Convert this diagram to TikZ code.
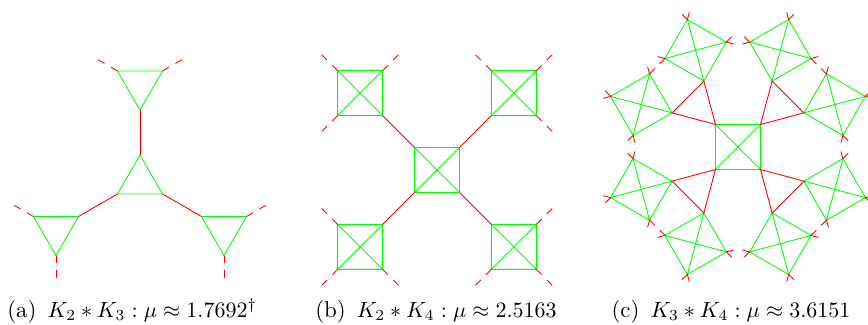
\documentclass[tikz,border=0pt]{standalone}
\usepackage{amsmath}
\usepackage{xcolor}
\usepackage{tikz}
\usetikzlibrary{calc}
\definecolor{kgreen}{RGB}{0,255,0}
\definecolor{kred}{RGB}{255,0,0}

\begin{document}
\begin{tikzpicture}[x=0.4545pt, y=0.4545pt, kedge/.style={kgreen, line join=round}, link/.style={kred}, stub/.style={kred, dash pattern=on 3.4pt off 3.4pt}, tick/.style={kred}, subcap/.style={anchor=base, inner sep=0pt, font=\fontsize{10.4}{12.5}\selectfont}]
\useasboundingbox (0,0) rectangle (868,324);

% (a) K2 * K3
\coordinate (oa) at (140,143);
\foreach \i in {0,1,2}
  \coordinate (a\i) at ($(oa)+({90+120*\i}:26)$);
\draw[kedge] (a0) -- (a1) -- (a2) -- cycle;
\foreach \i [evaluate=\i as \t using 90+120*\i] in {0,1,2} {
  \coordinate (ac\i) at ($(oa)+(\t:97)$);
  % a\i-0 faces the centre triangle
  \foreach \k in {0,1,2}
    \coordinate (a\i-\k) at ($(ac\i)+({\t+180+120*\k}:26)$);
  \draw[kedge] (a\i-0) -- (a\i-1) -- (a\i-2) -- cycle;
  \draw[link] (a\i) -- (a\i-0);
  \foreach \k in {1,2} {
    \coordinate (as\i-\k) at ($(ac\i)+({\t+180+120*\k}:48.5)$);
    \draw[stub] (a\i-\k) -- (as\i-\k);
  }
}

% (b) K2 * K4
\coordinate (ob) at (437,154);
\foreach \i in {0,...,3}
  \coordinate (b\i) at ($(ob)+({45+90*\i}:31.82)$);
\draw[kedge] (b0) -- (b1) -- (b2) -- (b3) -- cycle (b0) -- (b2) (b1) -- (b3);
\foreach \i [evaluate=\i as \t using 45+90*\i] in {0,...,3} {
  \coordinate (bc\i) at ($(ob)+(\t:108.64)$);
  \foreach \k in {0,...,3}
    \coordinate (b\i-\k) at ($(bc\i)+({\t+90*\k}:31.82)$);
  \draw[kedge] (b\i-0) -- (b\i-1) -- (b\i-2) -- (b\i-3) -- cycle (b\i-0) -- (b\i-2) (b\i-1) -- (b\i-3);
  \draw[link] (b\i) -- (b\i-2);
  \foreach \k in {0,1,3} {
    \coordinate (bs\i-\k) at ($(bc\i)+({\t+90*\k}:54.32)$);
    \draw[stub] (b\i-\k) -- (bs\i-\k);
  }
}

% (c) K3 * K4
\coordinate (oc) at (738,177);
\foreach \i in {0,...,3}
  \coordinate (c\i) at ($(oc)+({45+90*\i}:31.82)$);
\draw[kedge] (c0) -- (c1) -- (c2) -- (c3) -- cycle (c0) -- (c2) (c1) -- (c3);
\foreach \i [evaluate=\i as \t using 45+90*\i] in {0,...,3} {
  \foreach \j/\d in {p/30,m/-30} {
    \coordinate (cc\i\j) at ($(c\i)+({\t+\d}:76.82)$);
    \foreach \k in {0,...,3}
      \coordinate (c\i\j-\k) at ($(cc\i\j)+({\t+\d+90*\k}:31.82)$);
    \draw[kedge] (c\i\j-0) -- (c\i\j-1) -- (c\i\j-2) -- (c\i\j-3) -- cycle (c\i\j-0) -- (c\i\j-2) (c\i\j-1) -- (c\i\j-3);
    \foreach \k in {0,1,3} {
      \coordinate (ct\i\j-\k-l) at ($(c\i\j-\k)+({\t+\d+90*\k+30}:7.5)$);
      \coordinate (ct\i\j-\k-r) at ($(c\i\j-\k)+({\t+\d+90*\k-30}:7.5)$);
      \draw[tick] (ct\i\j-\k-l) -- (c\i\j-\k) -- (ct\i\j-\k-r);
    }
  }
  \draw[link] (c\i) -- (c\i p-2) -- (c\i m-2) -- cycle;
}

% captions
\node[subcap] (capa) at (132,7) {(a)\hspace{5pt}$K_2*K_3:\mu\approx1.7692^\dagger$};
\node[subcap] (capb) at (436,7) {(b)\hspace{5pt}$K_2*K_4:\mu\approx2.5163$};
\node[subcap] (capc) at (731,7) {(c)\hspace{5pt}$K_3*K_4:\mu\approx3.6151$};
\end{tikzpicture}
\end{document}
